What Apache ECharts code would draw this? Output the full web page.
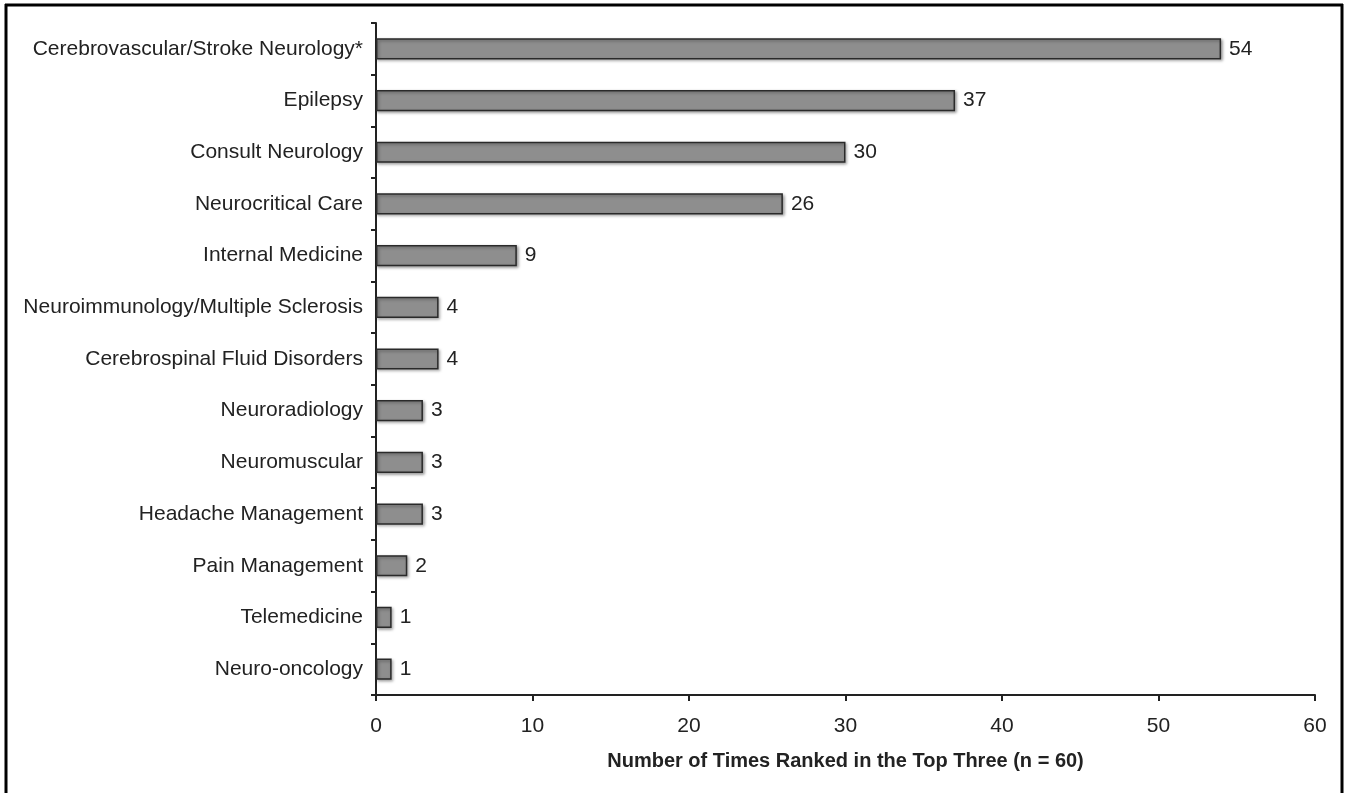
<!DOCTYPE html>
<html><head><meta charset="utf-8">
<script src="https://cdn.jsdelivr.net/npm/echarts@6/dist/echarts.min.js"></script>
<style>html,body{margin:0;padding:0;background:#fff}#c{width:1345px;height:793px}</style>
</head><body><div id="c"></div>
<script>
const categories = ["Cerebrovascular/Stroke Neurology*","Epilepsy","Consult Neurology","Neurocritical Care","Internal Medicine","Neuroimmunology/Multiple Sclerosis","Cerebrospinal Fluid Disorders","Neuroradiology","Neuromuscular","Headache Management","Pain Management","Telemedicine","Neuro-oncology"];
const values = [54,37,30,26,9,4,4,3,3,3,2,1,1];
const xTicks = [0,10,20,30,40,50,60];
const xTitle = "Number of Times Ranked in the Top Three (n = 60)";

const chart = echarts.init(document.getElementById('c'));
const font = "'Liberation Sans', Arial, sans-serif";
chart.setOption({
  animation:false,
  backgroundColor:'#fff',
  grid:{left:376,right:30,top:23,bottom:98,containLabel:false},
  xAxis:{type:'value',min:xTicks[0],max:xTicks[xTicks.length-1],interval:10,
    axisLine:{show:true,lineStyle:{color:'#222',width:2}},
    axisTick:{show:true,length:6,lineStyle:{color:'#222',width:2}},
    splitLine:{show:false},
    axisLabel:{margin:21,fontSize:21,color:'#222',fontFamily:font},
    name:xTitle,nameLocation:'middle',nameGap:56,
    nameTextStyle:{fontSize:20,fontWeight:'bold',color:'#222',fontFamily:font}},
  yAxis:{type:'category',data:categories,inverse:true,
    axisLine:{show:true,lineStyle:{color:'#222',width:2}},
    axisTick:{show:true,length:5,lineStyle:{color:'#222',width:2}},
    axisLabel:{margin:13,fontSize:21,color:'#222',fontFamily:font}},
  series:[{type:'bar',data:values,barCategoryGap:'59%',
    itemStyle:{color:'#8e8e8e',borderColor:'#2a2a2a',borderWidth:1.5,
      shadowColor:'rgba(0,0,0,0.35)',shadowBlur:3,shadowOffsetX:1.5,shadowOffsetY:1.5},
    label:{show:true,position:'right',distance:8,fontSize:21,color:'#222',fontFamily:font}}],
  graphic:[
    {type:'line',shape:{x1:5,y1:5,x2:1343,y2:5},style:{stroke:'#000',lineWidth:3}},
    {type:'line',shape:{x1:6,y1:4,x2:6,y2:793},style:{stroke:'#000',lineWidth:3}},
    {type:'line',shape:{x1:1342,y1:4,x2:1342,y2:793},style:{stroke:'#000',lineWidth:3}}
  ]
});
</script></body></html>
